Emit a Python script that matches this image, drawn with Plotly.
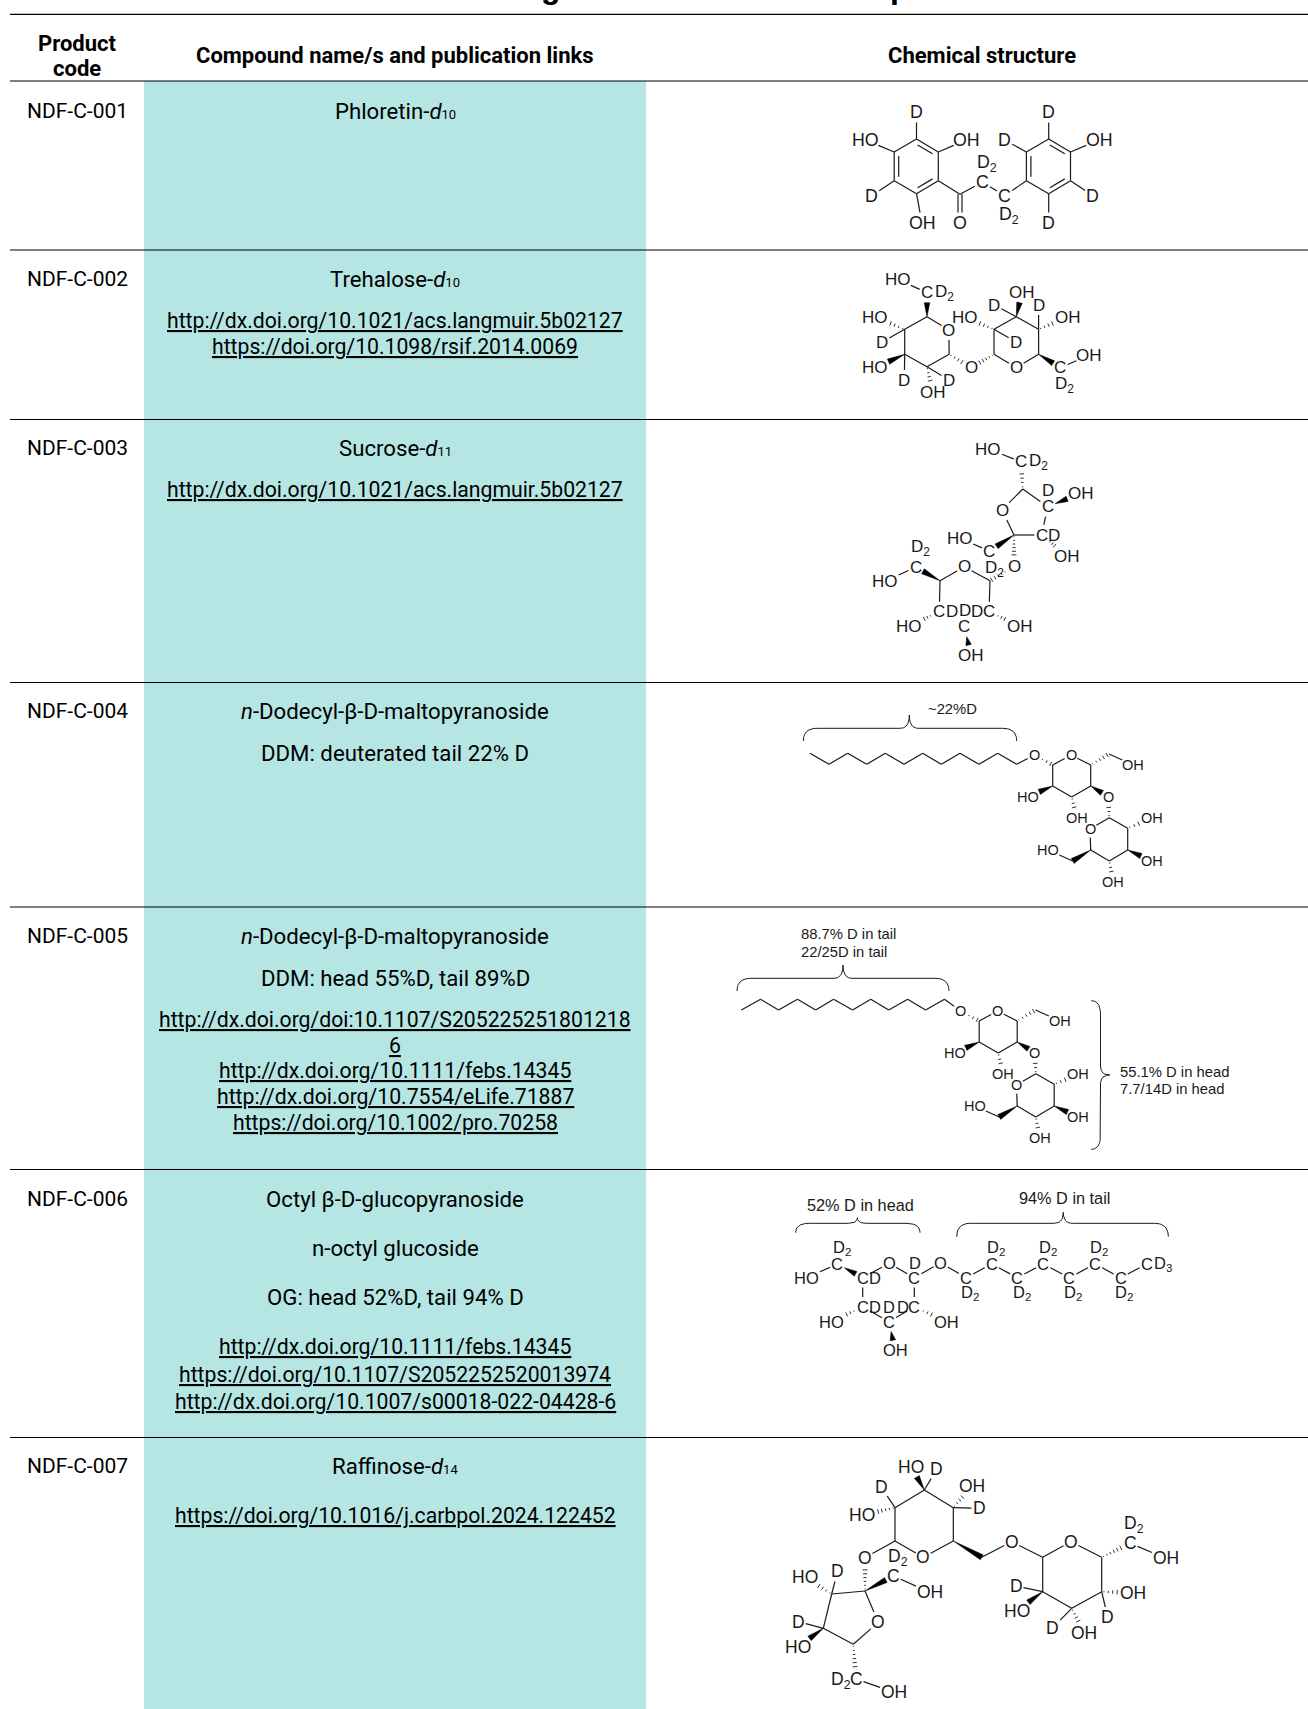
import plotly.graph_objects as go

# ---------- table content ----------
PAGE_W, PAGE_H = 1308, 1709
ROW_EDGES = [14.3, 81, 250, 419.5, 682.5, 907, 1169.5, 1437.5]
BAND_X = [144, 646]
BAND_COLOR = "#B5E6E4"
COL_CENTERS = [77, 395, 982]
TABLE_FONT = "Roboto, sans-serif"
STRUCT_FONT = "Liberation Sans, Arial, sans-serif"
NAME_SIZE, LINK_SIZE, CODE_SIZE = 22.2, 21.2, 21


def small(t):
    return f'<span style="font-size:13px">{t}</span>'


HEADERS = [("Product", 77, 43), ("code", 77, 68),
           ("Compound name/s and publication links", 395, 55.7),
           ("Chemical structure", 982, 55.7)]
PRODUCT_CODES = ["NDF-C-001", "NDF-C-002", "NDF-C-003", "NDF-C-004", "NDF-C-005", "NDF-C-006", "NDF-C-007"]
PRODUCT_Y = [110.7, 279.3, 448, 710.7, 935.5, 1199, 1466]
COMPOUND_LINES = [
    ("Phloretin-<i>d</i>" + small("10"), 110.7),
    ("Trehalose-<i>d</i>" + small("10"), 279.3),
    ("<u>http://dx.doi.org/10.1021/acs.langmuir.5b02127</u>", 320.7),
    ("<u>https://doi.org/10.1098/rsif.2014.0069</u>", 346.7),
    ("Sucrose-<i>d</i>" + small("11"), 448),
    ("<u>http://dx.doi.org/10.1021/acs.langmuir.5b02127</u>", 489.5),
    ("<i>n</i>-Dodecyl-β-D-maltopyranoside", 710.7),
    ("DDM: deuterated tail 22% D", 753),
    ("<i>n</i>-Dodecyl-β-D-maltopyranoside", 935.5),
    ("DDM: head 55%D, tail 89%D", 977.6),
    ("<u>http://dx.doi.org/doi:10.1107/S205225251801218</u>", 1019),
    ("<u>6</u>", 1045),
    ("<u>http://dx.doi.org/10.1111/febs.14345</u>", 1070.7),
    ("<u>http://dx.doi.org/10.7554/eLife.71887</u>", 1096),
    ("<u>https://doi.org/10.1002/pro.70258</u>", 1122),
    ("Octyl β-D-glucopyranoside", 1199),
    ("n-octyl glucoside", 1248),
    ("OG: head 52%D, tail 94% D", 1297),
    ("<u>http://dx.doi.org/10.1111/febs.14345</u>", 1346),
    ("<u>https://doi.org/10.1107/S2052252520013974</u>", 1374.5),
    ("<u>http://dx.doi.org/10.1007/s00018-022-04428-6</u>", 1401),
    ("Raffinose-<i>d</i>" + small("14"), 1466),
    ("<u>https://doi.org/10.1016/j.carbpol.2024.122452</u>", 1515),
]
# descenders of the cropped page title
TITLE_GLYPHS = [("g", 551), ("p", 900)]

D2 = "D<sub>2</sub>"
D3 = "D<sub>3</sub>"

# ---------- structures: node = (x, y, label) ; bond = (a, b, kind) ----------
PHLORETIN_NODES = {
    "a1": (916.5, 139, ""), "a2": (938.3, 152, ""), "a3": (938.3, 180.7, ""), "a4": (916.5, 193.7, ""),
    "a5": (894.2, 180.7, ""), "a6": (894.2, 152, ""), "ac": (916.3, 166, ""),
    "D1": (916.5, 112, "D"), "HO": (865.3, 140, "HO"), "OH1": (966.4, 140, "OH"), "D2": (871.6, 195.7, "D"),
    "OH2": (922, 223, "OH"), "co": (960, 194.3, ""), "O": (960, 223, "O"),
    "c1": (982.4, 182, "C"), "d1": (987, 163, D2), "c2": (1004.6, 195.7, "C"), "d2": (1008.8, 215, D2),
    "b1": (1026.4, 152, ""), "b2": (1048.7, 139, ""), "b3": (1070.5, 152, ""), "b4": (1070.5, 180.7, ""),
    "b5": (1048.7, 193.7, ""), "b6": (1026.4, 180.7, ""), "bc": (1048.5, 166, ""),
    "D3": (1048.7, 112, "D"), "D4": (1004.6, 140, "D"), "OH3": (1099, 140, "OH"), "D5": (1092.7, 195.7, "D"),
    "D6": (1048.7, 223, "D"),
}
PHLORETIN_BONDS = [
    ("a1", "a2", "d:ac"), ("a2", "a3", "s"), ("a3", "a4", "d:ac"), ("a4", "a5", "s"), ("a5", "a6", "d:ac"), ("a6", "a1", "s"),
    ("a1", "D1", "s"), ("a6", "HO", "s"), ("a2", "OH1", "s"), ("a5", "D2", "s"), ("a4", "OH2", "s"),
    ("a3", "co", "s"), ("co", "O", "e"), ("co", "c1", "s"), ("c1", "c2", "s"), ("c2", "b6", "s"),
    ("b1", "b2", "s"), ("b2", "b3", "d:bc"), ("b3", "b4", "s"), ("b4", "b5", "d:bc"), ("b5", "b6", "s"), ("b6", "b1", "d:bc"),
    ("b2", "D3", "s"), ("b1", "D4", "s"), ("b3", "OH3", "s"), ("b4", "D5", "s"), ("b5", "D6", "s"),
]

TREHALOSE_NODES = {
    "O": (948.8, 330, "O"), "c1": (927, 316.7, ""), "c2": (904.7, 329.3, ""), "c3": (904.7, 354.3, ""),
    "c4": (927, 366.7, ""), "c5": (949.2, 354.3, ""), "c6": (927, 292.7, "C"), "c6d": (944, 293, D2),
    "HOa": (897.6, 279.3, "HO"), "HOb": (875.3, 317.3, "HO"), "Da": (882, 342, "D"), "HOc": (875.3, 367.7, "HO"),
    "Db": (904.3, 380, "D"), "OHa": (932.8, 392.7, "OH"), "Dc": (948.8, 380, "D"), "Om": (971, 367.7, "O"),
    "r1": (994, 354.3, ""), "r2": (994, 329.3, ""), "r3": (1016.3, 316.7, ""), "r4": (1038.6, 329.3, ""),
    "r5": (1038.6, 354.3, ""), "Or": (1016.3, 367.7, "O"), "HOd": (964.7, 317.3, "HO"), "Dd": (1016, 342, "D"),
    "OHb": (1021.8, 292.7, "OH"), "De": (994, 305, "D"), "Df": (1038.6, 305, "D"), "OHc": (1067.5, 317.3, "OH"),
    "r6": (1060.4, 367.7, "C"), "OHd": (1089.4, 355, "OH"), "d2": (1064.6, 385, D2),
}
TREHALOSE_BONDS = [
    ("O", "c1", "s"), ("c1", "c2", "s"), ("c2", "c3", "s"), ("c3", "c4", "s"), ("c4", "c5", "s"), ("c5", "O", "s"),
    ("c1", "c6", "w"), ("c6", "HOa", "s"), ("c2", "HOb", "h"), ("c2", "Da", "s"), ("c3", "HOc", "w"), ("c3", "Db", "s"),
    ("c4", "OHa", "h"), ("c4", "Dc", "s"), ("c5", "Om", "h"), ("r1", "Om", "h"),
    ("r1", "r2", "s"), ("r2", "r3", "s"), ("r3", "r4", "s"), ("r4", "r5", "s"), ("r5", "Or", "s"), ("Or", "r1", "s"),
    ("r2", "HOd", "h"), ("r2", "Dd", "s"), ("r3", "OHb", "w"), ("r3", "De", "s"), ("r4", "Df", "s"), ("r4", "OHc", "h"),
    ("r5", "r6", "w"), ("r6", "OHd", "s"),
]

SUCROSE_NODES = {
    "HOa": (988.3, 449, "HO"), "c6": (1021, 461.7, "C"), "c6d": (1038, 462, D2), "f5": (1022.7, 489, ""),
    "Of": (1002, 510, "O"), "f2": (1014, 535, ""), "f3": (1041.7, 535, "C"), "f3d": (1054, 535, "D"),
    "f4": (1047.7, 506.7, "C"), "f4d": (1047.7, 490.7, "D"), "OHa": (1080.7, 493.3, "OH"), "OHb": (1067.3, 556, "OH"),
    "c1f": (989.3, 551, "C"), "HOb": (960, 538.3, "HO"), "Om": (1014, 566.7, "O"), "d2": (994, 569, D2),
    "Op": (964.3, 566.7, "O"), "p5": (940, 580.7, ""), "p1": (990, 580.7, ""), "p4": (939.3, 611.7, "C"),
    "p4d": (952, 611.7, "D"), "p3d": (965, 610, "D"), "p2d": (977, 611.7, "D"), "p2": (989, 611.7, "C"),
    "p3": (964.3, 626.7, "C"), "OHc": (971, 655, "OH"), "p6": (915.7, 567.3, "C"), "p6d": (920, 548.3, D2),
    "HOc": (885, 581, "HO"), "HOd": (909.3, 626, "HO"), "OHd": (1020, 626, "OH"),
}
SUCROSE_BONDS = [
    ("HOa", "c6", "s"), ("f5", "c6", "h"), ("f5", "Of", "s"), ("Of", "f2", "s"), ("f2", "f3", "s"), ("f3", "f4", "s"), ("f4", "f5", "s"),
    ("f4", "OHa", "w"), ("f3", "OHb", "h"), ("f2", "c1f", "w"), ("c1f", "HOb", "s"), ("f2", "Om", "h"), ("Om", "p1", "h"),
    ("Op", "p1", "s"), ("Op", "p5", "s"), ("p5", "p4", "s"), ("p1", "p2", "s"), ("p5", "p6", "w"), ("p6", "HOc", "s"),
    ("p4", "HOd", "h"), ("p2", "OHd", "h"), ("p3", "OHc", "w"),
]

DDM_HEAD_NODES = {
    "O1": (1034, 755, "O"), "c1": (1052.7, 765, ""), "O": (1071, 755, "O"), "c2": (1052.7, 786, ""),
    "c3": (1071.7, 797, ""), "c4": (1090.7, 786, ""), "c5": (1090.7, 765, ""), "c6": (1109, 754, ""),
    "OHa": (1133.3, 765, "OH"), "HOa": (1028.3, 796.7, "HO"), "OHb": (1076.7, 818, "OH"), "Om": (1108.3, 796.7, "O"),
    "r1": (1109.3, 817.7, ""), "Or": (1090, 829, "O"), "r5": (1090.7, 850, ""), "r4": (1109.3, 861, ""),
    "r3": (1127.7, 850, ""), "r2": (1127.7, 828.3, ""), "OHc": (1151.7, 818.3, "OH"), "OHd": (1151.7, 861, "OH"),
    "OHe": (1113.3, 882.3, "OH"), "r6": (1072.7, 861, ""), "HOb": (1048.3, 850, "HO"),
}
DDM_HEAD_BONDS = [
    ("O1", "c1", "h"), ("c1", "O", "s"), ("O", "c5", "s"), ("c5", "c4", "s"), ("c4", "c3", "s"), ("c3", "c2", "s"), ("c2", "c1", "s"),
    ("c5", "c6", "h"), ("c6", "OHa", "s"), ("c2", "HOa", "w"), ("c3", "OHb", "h"), ("c4", "Om", "w"), ("r1", "Om", "h"),
    ("r1", "Or", "s"), ("Or", "r5", "s"), ("r5", "r4", "s"), ("r4", "r3", "s"), ("r3", "r2", "s"), ("r2", "r1", "s"),
    ("r2", "OHc", "h"), ("r3", "OHd", "w"), ("r4", "OHe", "h"), ("r5", "r6", "w"), ("r6", "HOb", "s"),
]
DDM22_CHAIN_X = [810, 829, 847.7, 866.7, 885.3, 904, 922.7, 941.3, 960, 979, 997.7, 1016.7]
DDM22_CHAIN_Y = [753.3, 764.3, 753.3, 764.3, 753.3, 764.3, 753.3, 764.3, 753.3, 764.3, 753.3, 764.3]
DDM55_CHAIN_X = [741.3, 760.6, 778.5, 797.5, 815.7, 833.6, 852.6, 870.8, 888.7, 907.7, 925.6, 944.5]
DDM55_CHAIN_Y = [1010, 999.3, 1010, 999.3, 1010, 999.3, 1010, 999.3, 1010, 999.3, 1010, 999.3]
DDM55_OFFSET = (-73.5, 256)

OG_NODES = {
    "HO": (806.7, 1277.7, "HO"), "c6": (837.3, 1264, "C"), "c6d": (841.7, 1248.3, D2), "c5": (862.7, 1277.7, "C"),
    "c5d": (875, 1277.7, "D"), "O": (889, 1263.3, "O"), "c1": (914.3, 1277.7, "C"), "c1d": (915, 1262.7, "D"),
    "O2": (940.7, 1262.7, "O"), "t1": (966, 1277.7, "C"), "t1d": (970, 1293.3, D2), "t2": (991.7, 1264, "C"),
    "t2d": (996, 1248.3, D2), "t3": (1017.3, 1277.7, "C"), "t3d": (1021.7, 1293.3, D2), "t4": (1043.3, 1264, "C"),
    "t4d": (1047.7, 1248.3, D2), "t5": (1069.3, 1277.7, "C"), "t5d": (1073.3, 1293.3, D2), "t6": (1095, 1264, "C"),
    "t6d": (1099, 1248.3, D2), "t7": (1120.7, 1277.7, "C"), "t7d": (1124.3, 1293.3, D2), "t8": (1146.7, 1264, "C"),
    "t8d": (1163, 1264, D3), "c4": (862.7, 1306.7, "C"), "c4d": (875, 1306.7, "D"), "HO2": (831.7, 1321.7, "HO"),
    "c3d": (889, 1306.7, "D"), "c3": (889, 1321.7, "C"), "OH": (895, 1350, "OH"), "c2": (914.3, 1306.7, "C"),
    "c2d": (902.5, 1306.7, "D"), "OH2": (946.7, 1321.7, "OH"),
}
OG_BONDS = [
    ("HO", "c6", "s"), ("c6", "c5", "w"), ("c5", "O", "s"), ("O", "c1", "s"), ("c1", "O2", "s"), ("O2", "t1", "s"),
    ("t1", "t2", "s"), ("t2", "t3", "s"), ("t3", "t4", "s"), ("t4", "t5", "s"), ("t5", "t6", "s"), ("t6", "t7", "s"), ("t7", "t8", "s"),
    ("c5", "c4", "s"), ("c1", "c2", "s"), ("c4", "HO2", "h"), ("c2", "OH2", "h"), ("c3", "OH", "w"), ("c4", "c3", "s"), ("c3", "c2", "s"),
]

RAFFINOSE_NODES = {
    "c1": (895, 1507.7, ""), "c2": (924.3, 1490, ""), "c3": (953.3, 1507.7, ""), "c4": (953.3, 1541, ""),
    "Op": (923.3, 1557.3, "O"), "c5": (895, 1541, ""), "HOa": (911, 1466.7, "HO"), "Da": (936.7, 1469.3, "D"),
    "Db": (881, 1486.7, "D"), "HOb": (862.3, 1515, "HO"), "OHa": (972.3, 1485.7, "OH"), "Dc": (979, 1508.3, "D"),
    "Og": (865, 1557.7, "O"), "d2": (898.3, 1557.3, D2), "ch": (981.7, 1557.3, ""), "Om": (1011.7, 1541.7, "O"),
    "r1": (1042.7, 1557.3, ""), "Or": (1071, 1541.7, "O"), "r5": (1101.7, 1557.3, ""), "r4": (1101.7, 1591.7, ""),
    "r3": (1071.7, 1608.3, ""), "r2": (1042.7, 1591.7, ""), "r6": (1130, 1543.3, "C"), "r6d": (1134.3, 1524.3, D2),
    "OHb": (1166, 1558.3, "OH"), "OHc": (1133.3, 1592.7, "OH"), "Dd": (1107.7, 1617.3, "D"), "De": (1052.7, 1627.7, "D"),
    "OHd": (1084.3, 1633.3, "OH"), "Df": (1016, 1586, "D"), "HOc": (1016.7, 1611, "HO"),
    "f2": (865, 1591, ""), "f1": (893.3, 1576, "C"), "OHe": (930, 1592.3, "OH"), "f3": (831.7, 1594, ""),
    "f4": (823.3, 1628.3, ""), "f5": (853.3, 1644.3, ""), "Of": (878.3, 1622.3, "O"), "HOd": (805, 1577.3, "HO"),
    "Dg": (837.7, 1571, "D"), "Dh": (798.3, 1621.7, "D"), "HOe": (798.3, 1646.7, "HO"), "f6": (856, 1679, "C"),
    "f6d": (841, 1680, D2), "OHf": (894, 1692.3, "OH"),
}
RAFFINOSE_BONDS = [
    ("c1", "c2", "s"), ("c2", "c3", "s"), ("c3", "c4", "s"), ("c4", "Op", "s"), ("Op", "c5", "s"), ("c5", "c1", "s"),
    ("c2", "HOa", "w"), ("c2", "Da", "s"), ("c1", "Db", "s"), ("c1", "HOb", "h"), ("c3", "OHa", "h"), ("c3", "Dc", "s"),
    ("c5", "Og", "s"), ("c4", "ch", "w"), ("ch", "Om", "s"), ("Om", "r1", "s"), ("r1", "Or", "s"), ("Or", "r5", "s"),
    ("r5", "r4", "s"), ("r4", "r3", "s"), ("r3", "r2", "s"), ("r2", "r1", "s"), ("r5", "r6", "h"), ("r6", "OHb", "s"),
    ("r4", "OHc", "h"), ("r4", "Dd", "s"), ("r3", "De", "s"), ("r3", "OHd", "h"), ("r2", "Df", "s"), ("r2", "HOc", "w"),
    ("f2", "Og", "h"), ("f2", "f1", "w"), ("f1", "OHe", "s"), ("f2", "f3", "s"), ("f3", "f4", "s"), ("f4", "f5", "s"),
    ("f5", "Of", "s"), ("Of", "f2", "s"), ("f3", "HOd", "h"), ("f3", "Dg", "s"), ("f4", "Dh", "s"), ("f4", "HOe", "w"), ("f5", "f6", "h"), ("f6", "OHf", "s"),
]

# (text, x, y, anchor, size)
STRUCT_NOTES = [
    ("~22%D", 952.3, 709.3, "center", 14.8),
    ("88.7% D in tail", 800.2, 934, "left", 14.8), ("22/25D in tail", 800.2, 952.3, "left", 14.8),
    ("55.1% D in head", 1119.4, 1072.3, "left", 14.8), ("7.7/14D in head", 1119.4, 1089, "left", 14.8),
    ("52% D in head", 860.7, 1205, "center", 16.3), ("94% D in tail", 1064, 1198.3, "center", 16.3),
]
# (start, end, tip along, base, top, tip across, vertical?)
BRACES = [
    (803.3, 1016.7, 909.3, 741, 728.3, 715, False),
    (737, 949, 843, 991, 978.3, 965, False),
    (795.7, 920, 857.3, 1232.7, 1223.3, 1217.7, False),
    (956.7, 1168.3, 1063.3, 1236.7, 1223.3, 1212.3, False),
    (1000.7, 1149.3, 1075, 1091.2, 1100.5, 1109.8, True),
]

INK = "#1a1a1a"


def shifted(nodes, off):
    return {k: (v[0] + off[0], v[1] + off[1], v[2]) for k, v in nodes.items()}


def with_chain(nodes, bonds, xs, ys):
    nodes = dict(nodes)
    bonds = list(bonds)
    prev = None
    for i, (x, y) in enumerate(zip(xs, ys)):
        nodes[f"t{i}"] = (x, y, "")
        if prev:
            bonds.append((prev, f"t{i}", "s"))
        prev = f"t{i}"
    bonds.append((prev, "O1", "s"))
    return nodes, bonds


def plain_len(label):
    return len(label.replace("<sub>", "").replace("</sub>", ""))


def clip(p, q, label, fs):
    """pull p toward q so that the segment leaves the label box"""
    if not label:
        return p
    w = 0.74 * fs * plain_len(label) / 2 + 1
    h = 0.56 * fs + 0.5
    dx, dy = q[0] - p[0], q[1] - p[1]
    t = min(w / abs(dx) if abs(dx) > 1e-6 else 9, h / abs(dy) if abs(dy) > 1e-6 else 9)
    t = min(t, 0.45)
    return (p[0] + dx * t, p[1] + dy * t)


def draw_molecule(fig, annos, nodes, bonds, fs=16.5):
    lx, ly, hx, hy, wx, wy = [], [], [], [], [], []
    for a, b, kind in bonds:
        na, nb = nodes[a], nodes[b]
        p = clip(na[:2], nb[:2], na[2], fs)
        q = clip(nb[:2], na[:2], nb[2], fs)
        dx, dy = q[0] - p[0], q[1] - p[1]
        ln = (dx * dx + dy * dy) ** 0.5 or 1
        ux, uy = dx / ln, dy / ln
        nx, ny = -uy, ux
        if kind == "s":
            lx += [p[0], q[0], None]
            ly += [p[1], q[1], None]
        elif kind.startswith("d:"):
            lx += [p[0], q[0], None]
            ly += [p[1], q[1], None]
            c = nodes[kind[2:]]
            mx, my = (p[0] + q[0]) / 2, (p[1] + q[1]) / 2
            s = 1 if (c[0] - mx) * nx + (c[1] - my) * ny > 0 else -1
            o = 4.5 * s
            lx += [p[0] + ux * 4 + nx * o, q[0] - ux * 4 + nx * o, None]
            ly += [p[1] + uy * 4 + ny * o, q[1] - uy * 4 + ny * o, None]
        elif kind == "e":
            for o in (-2, 2):
                lx += [p[0] + nx * o, q[0] + nx * o, None]
                ly += [p[1] + ny * o, q[1] + ny * o, None]
        elif kind == "w":
            wx += [p[0], q[0] + nx * 2.8, q[0] - nx * 2.8, p[0], None]
            wy += [p[1], q[1] + ny * 2.8, q[1] - ny * 2.8, p[1], None]
        elif kind == "h":
            n = max(3, int(ln / 3.6))
            for i in range(n):
                t = (i + 0.5) / n
                hw = 0.3 + 2.3 * t
                cx, cy = p[0] + dx * t, p[1] + dy * t
                hx += [cx - nx * hw, cx + nx * hw, None]
                hy += [cy - ny * hw, cy + ny * hw, None]
    fig.add_trace(go.Scatter(x=lx, y=ly, mode="lines", line=dict(color=INK, width=1.2), hoverinfo="skip", showlegend=False))
    if hx:
        fig.add_trace(go.Scatter(x=hx, y=hy, mode="lines", line=dict(color=INK, width=0.9), hoverinfo="skip", showlegend=False))
    if wx:
        fig.add_trace(go.Scatter(x=wx, y=wy, mode="lines", fill="toself", fillcolor="#000", line=dict(color="#000", width=0.5),
                                 hoverinfo="skip", showlegend=False))
    for x, y, label in nodes.values():
        if label:
            annos.append(dict(x=x, y=y, text=label, showarrow=False, xanchor="center", yanchor="middle", borderpad=0,
                              font=dict(family=STRUCT_FONT, size=fs, color=INK)))


def brace_points(a0, a1, tip, base, top, apex, r=14):
    def q(p0, c, p1, n=10):
        return [((1 - t) ** 2 * p0[0] + 2 * t * (1 - t) * c[0] + t * t * p1[0],
                 (1 - t) ** 2 * p0[1] + 2 * t * (1 - t) * c[1] + t * t * p1[1]) for t in [i / n for i in range(n + 1)]]
    pts = q((a0, base), (a0, top), (a0 + r, top))
    pts += q((tip - 9, top), (tip, top), (tip, apex))
    pts += q((tip, apex), (tip, top), (tip + 9, top))
    pts += q((a1 - r, top), (a1, top), (a1, base))
    return pts


fig = go.Figure()
annos = []

draw_molecule(fig, annos, PHLORETIN_NODES, PHLORETIN_BONDS, 17.8)
draw_molecule(fig, annos, TREHALOSE_NODES, TREHALOSE_BONDS, 17)
draw_molecule(fig, annos, SUCROSE_NODES, SUCROSE_BONDS, 17)
n22, b22 = with_chain(DDM_HEAD_NODES, DDM_HEAD_BONDS, DDM22_CHAIN_X, DDM22_CHAIN_Y)
draw_molecule(fig, annos, n22, b22, 14.5)
n55, b55 = with_chain(shifted(DDM_HEAD_NODES, DDM55_OFFSET), DDM_HEAD_BONDS, DDM55_CHAIN_X, DDM55_CHAIN_Y)
draw_molecule(fig, annos, n55, b55, 14.5)
draw_molecule(fig, annos, OG_NODES, OG_BONDS, 16.5)
draw_molecule(fig, annos, RAFFINOSE_NODES, RAFFINOSE_BONDS, 17.5)

for a0, a1, tip, base, top, apex, vertical in BRACES:
    pts = brace_points(a0, a1, tip, base, top, apex)
    along = [p[0] for p in pts]
    across = [p[1] for p in pts]
    fig.add_trace(go.Scatter(x=across if vertical else along, y=along if vertical else across, mode="lines",
                             line=dict(color=INK, width=1), hoverinfo="skip", showlegend=False))

for text, x, y, anchor, size in STRUCT_NOTES:
    annos.append(dict(x=x, y=y, text=text, showarrow=False, xanchor=anchor, yanchor="middle", borderpad=0,
                      font=dict(family=STRUCT_FONT, size=size, color=INK)))

for text, x, y in HEADERS:
    annos.append(dict(x=x, y=y, text=f"<b>{text}</b>", showarrow=False, xanchor="center", yanchor="middle", borderpad=0,
                      font=dict(family=TABLE_FONT, size=22, color="#000")))
for code, y in zip(PRODUCT_CODES, PRODUCT_Y):
    annos.append(dict(x=COL_CENTERS[0], y=y, text=code, showarrow=False, xanchor="center", yanchor="middle", borderpad=0,
                      font=dict(family=TABLE_FONT, size=CODE_SIZE, color="#000")))
for text, y in COMPOUND_LINES:
    size = LINK_SIZE if text.startswith("<u>") else NAME_SIZE
    annos.append(dict(x=COL_CENTERS[1], y=y, text=text, showarrow=False, xanchor="center", yanchor="middle", borderpad=0,
                      font=dict(family=TABLE_FONT, size=size, color="#000")))
for glyph, x in TITLE_GLYPHS:
    annos.append(dict(x=x, y=6, text=f"<b>{glyph}</b>", showarrow=False, xanchor="center", yanchor="bottom", borderpad=0,
                      font=dict(family="Liberation Sans", size=32, color="#000")))

shapes = [dict(type="rect", xref="x", yref="y", x0=BAND_X[0], x1=BAND_X[1], y0=ROW_EDGES[1], y1=PAGE_H,
               fillcolor=BAND_COLOR, line_width=0, layer="below")]
for y in ROW_EDGES:
    shapes.append(dict(type="line", xref="x", yref="y", x0=10, x1=PAGE_W, y0=y, y1=y,
                       line=dict(color="#000", width=1.2), layer="below"))

fig.update_layout(
    width=PAGE_W, height=PAGE_H, margin=dict(l=0, r=0, t=0, b=0),
    paper_bgcolor="white", plot_bgcolor="white", showlegend=False,
    xaxis=dict(range=[0, PAGE_W], visible=False, fixedrange=True),
    yaxis=dict(range=[PAGE_H, 0], visible=False, fixedrange=True),
    shapes=shapes, annotations=annos,
)
fig.write_html("out.html", config=dict(displayModeBar=False),
               post_script="document.body.style.margin='0';document.body.style.overflow='hidden';")
